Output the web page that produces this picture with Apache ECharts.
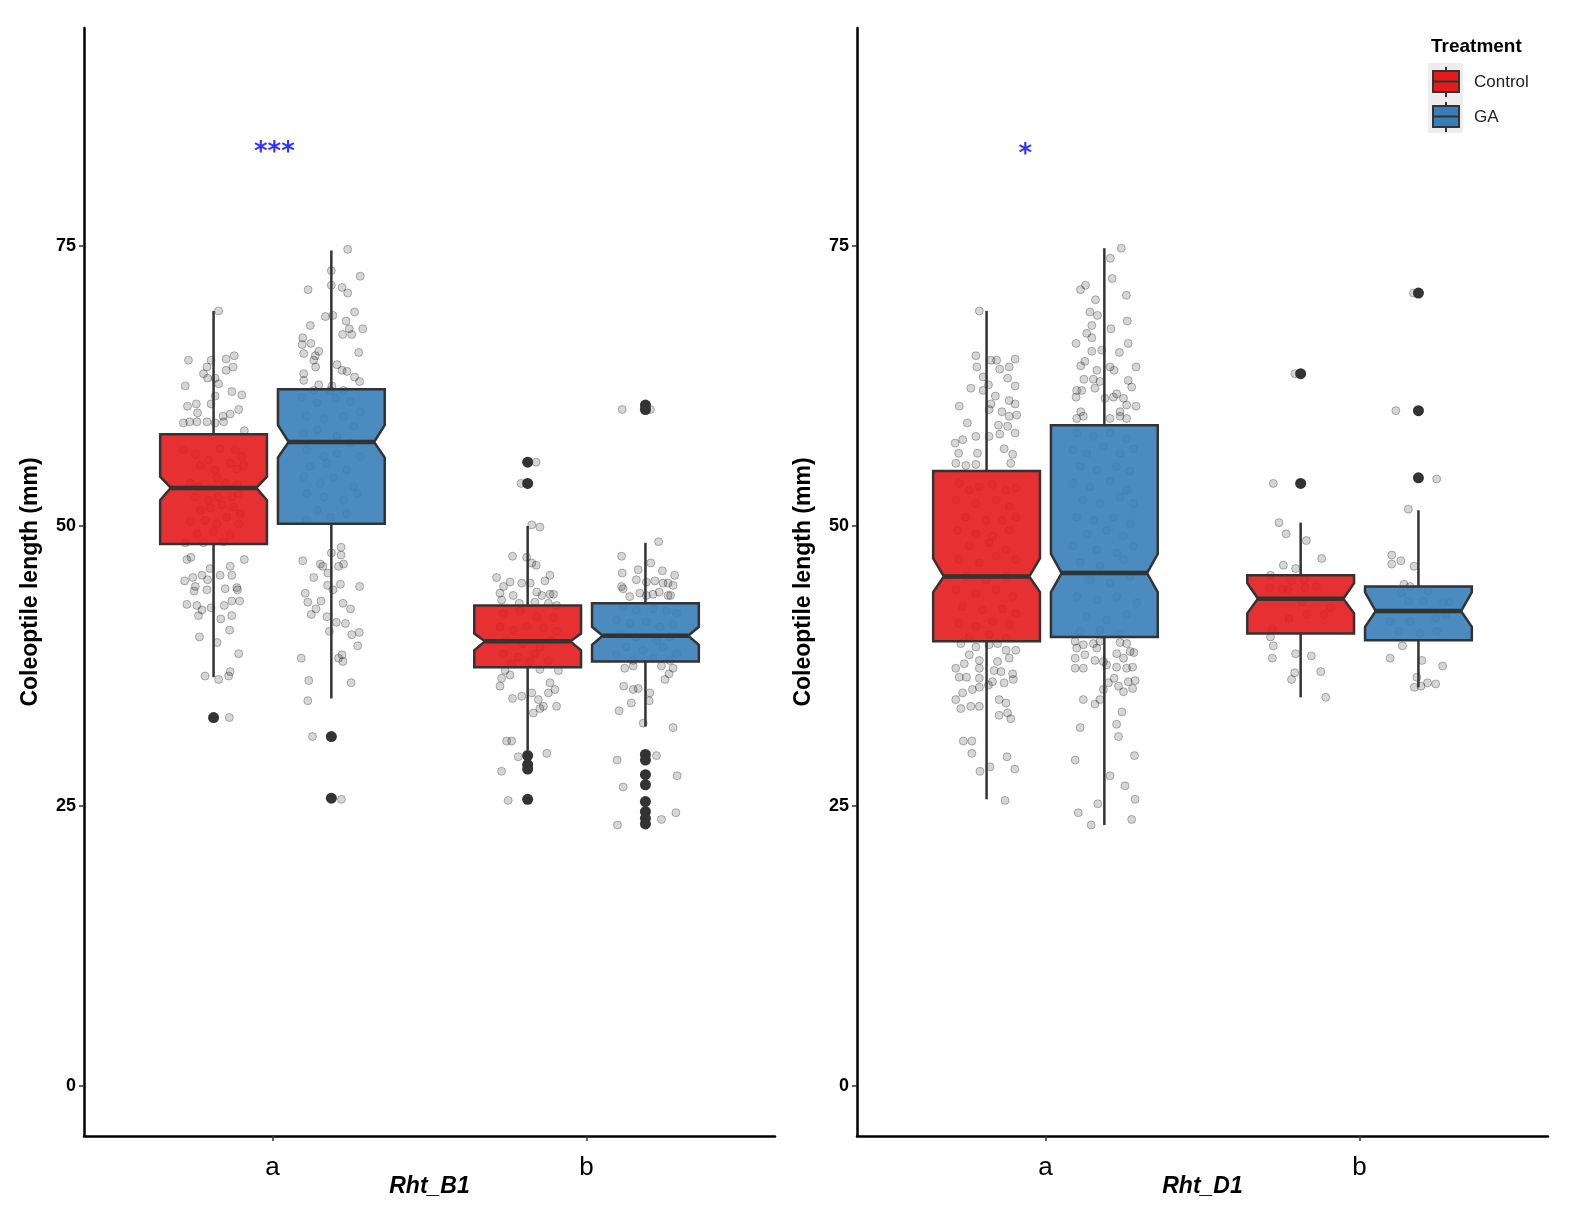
<!DOCTYPE html>
<html>
<head>
<meta charset="utf-8">
<script src="https://cdn.jsdelivr.net/npm/echarts@6/dist/echarts.min.js"></script>
<style>
  html, body { margin: 0; padding: 0; background: #fff; overflow: hidden; }
  #chart { width: 1570px; height: 1210px; }
</style>
</head>
<body>
<div id="chart"></div>
<script>
// ---- data ----
var categories = ['a', 'b'];
var panelNames = ['Rht_B1', 'Rht_D1'];
var treatments = ['Control', 'GA'];
var yTicks = [0, 25, 50, 75];

// box stats per category: [lowWhisker, q1, notchLow, median, notchHigh, q3, highWhisker]
var b1Control = [[36.5, 48.4, 52.3, 53.4, 54.4, 58.2, 69.2], [30.0, 37.4, 38.9, 39.7, 40.4, 42.9, 50.0]];
var b1GA      = [[34.6, 50.2, 56.1, 57.5, 59.0, 62.2, 74.6], [32.1, 37.9, 39.4, 40.2, 41.0, 43.1, 48.5]];
var d1Control = [[25.6, 39.7, 44.1, 45.5, 47.1, 54.9, 69.2], [34.7, 40.4, 42.2, 43.5, 44.9, 45.6, 50.3]];
var d1GA      = [[23.3, 40.1, 44.1, 45.8, 47.5, 59.0, 74.8], [35.6, 39.8, 41.0, 42.4, 44.1, 44.6, 51.4]];

// outliers per category
var b1ControlOut = [[32.9], [55.7, 53.8, 29.5, 28.7, 28.3, 25.6]];
var b1GAOut      = [[31.2, 25.7], [60.8, 60.4, 29.6, 29.1, 27.8, 26.9, 25.4, 24.5, 23.9, 23.4]];
var d1ControlOut = [[], [63.6, 53.8]];
var d1GAOut      = [[], [70.8, 60.3, 54.3]];

// jittered observations per category: [jitter offset, value]
var b1ControlPts = [
  [[0.016,69.2],[-0.08,64.8],[-0.008,64.8],[0.04,64.9],[0.066,65.2],[-0.021,64.2],[0.062,64.2],[0.04,63.9],[-0.032,63.6],[-0.019,63.2],[0.005,63.2],[0.016,62.7],[-0.09,62.5],[0.058,62.0],[0.09,61.7],[0.005,61.6],[-0.008,60.9],[-0.083,60.7],[-0.055,60.9],[-0.051,60.1],[0.08,60.4],[0.053,60.0],[0.03,59.8],[-0.096,59.2],[-0.076,59.3],[-0.053,59.3],[-0.021,59.3],[0.005,59.2],[0.032,59.3],[0.098,58.5],
   [-0.096,56.8],[-0.058,56.4],[0.021,56.9],[0.069,56.8],[0.09,56.2],[-0.042,55.4],[-0.016,55.9],[0.005,55.0],[0.053,55.6],[0.074,55.1],[0.096,55.4],[-0.074,53.8],[-0.048,53.5],[0.011,54.3],[0.037,53.8],[0.074,53.7],[-0.058,52.6],[-0.016,52.3],[0.016,52.6],[0.058,52.6],[0.08,52.9],[-0.042,51.4],[-0.011,51.6],[0.027,51.9],[0.064,51.7],[0.085,51.1],[-0.074,50.4],[-0.027,50.5],[0.011,50.2],[0.042,50.8],[0.08,50.2],[-0.053,49.3],[0,49.5],[0.053,49.2],[-0.09,48.5],[-0.032,48.5],[0.032,48.6],
   [-0.085,47.0],[-0.072,47.2],[-0.011,46.2],[0.021,45.6],[0.053,46.4],[0.058,45.6],[0.098,47.0],[-0.066,45.4],[-0.037,45.6],[-0.019,45.2],[-0.092,45.1],[-0.058,44.6],[-0.062,44.2],[-0.021,44.3],[0.037,44.4],[0.074,44.5],[0.076,44.3],[-0.085,43.0],[-0.053,42.9],[-0.037,42.5],[-0.008,42.7],[0.034,42.9],[0.058,43.3],[0.083,43.3],[-0.048,42.0],[0.023,41.7],[0.058,42.0],[0.051,40.7],[-0.045,40.1],[0.011,39.6],[0.08,38.6],[-0.027,36.6],[0.016,36.3],[0.048,36.6],[0.053,37.0],[0.05,32.9]],
  [[0.027,55.7],[-0.021,53.8],[0.013,50.1],[0.039,49.9],[-0.048,47.3],[-0.003,47.2],[0.013,46.7],[0.027,46.5],[-0.099,45.4],[-0.056,45.0],[-0.077,44.6],[-0.019,44.9],[0.008,44.9],[0.071,45.6],[0.055,45.1],[-0.088,44.0],[-0.046,43.8],[0.029,44.1],[0.045,43.8],[0.071,43.9],[0.082,43.9],[-0.083,43.4],[-0.027,43.1],[0.023,43.2],[0.066,43.1],[0.092,42.9],
   [-0.077,42.2],[-0.024,42.4],[0.029,41.9],[0.082,41.8],[-0.088,41.0],[-0.046,40.7],[-0.003,41.0],[0.05,40.9],[0.092,40.6],[-0.067,39.8],[-0.014,39.5],[0.039,39.2],[0.076,39.8],[-0.077,38.6],[-0.03,38.3],[0.023,38.6],[0.066,38.0],[-0.051,37.7],[0.007,37.9],
   [-0.072,37.1],[-0.056,36.7],[0.039,37.2],[0.098,37.1],[-0.083,36.4],[-0.088,35.7],[-0.048,34.6],[-0.019,34.8],[0.013,35.1],[0.034,34.5],[0.05,33.9],[0.071,36.0],[0.087,35.4],[0.066,35.1],[0.092,33.9],[0.018,33.3],[0.039,33.7],[-0.067,30.8],[-0.051,30.8],[0.061,29.7],[-0.03,29.4],[-0.083,28.1],[-0.062,25.5]]
];
var b1GAPts = [
  [[0.052,74.7],[0,72.8],[0.092,72.3],[-0.074,71.1],[0,71.5],[0.034,71.3],[0.052,70.8],[0.074,69.1],[-0.019,68.7],[0.005,68.8],[0.047,68.3],[-0.067,67.9],[0.057,67.6],[0.1,67.6],[0.036,67.1],[0.065,67.1],[-0.091,66.8],[-0.093,66.2],[-0.065,66.3],[-0.04,65.6],[-0.088,65.4],[-0.051,65.2],[-0.056,64.8],[0.087,65.5],[-0.05,64.2],[0.018,64.4],[0.034,63.9],[0.05,63.8],[-0.088,63.6],[-0.088,63.0],[0.074,63.3],[0.09,62.9],[-0.04,62.6],[0.002,62.5],[-0.056,62.1],[-0.003,62.1],[0.039,62.1],
   [-0.093,61.5],[-0.046,61.0],[0.013,61.4],[0.061,61.1],[0.092,60.2],[-0.077,59.8],[-0.024,59.5],[0.039,59.8],[0.071,58.9],[-0.088,58.3],[-0.046,58.6],[0.018,58.0],[0.061,57.4],[-0.077,56.8],[-0.024,56.2],[0.018,56.5],[0.092,56.2],[-0.067,55.3],[-0.014,55.6],[0.05,55.0],[-0.088,54.4],[-0.035,53.8],[0.007,54.3],[0.071,53.5],[-0.077,52.9],[-0.024,52.6],[0.039,52.3],[0.082,52.9],[-0.046,51.4],[-0.003,50.8],[0.05,51.1],[-0.077,50.5],
   [0.031,48.1],[0,47.6],[0.031,47.4],[-0.091,46.9],[-0.035,46.6],[-0.027,46.4],[0.023,46.4],[0.039,46.6],[-0.011,45.8],[-0.056,45.4],[-0.012,44.7],[0.029,44.8],[0.09,44.6],[0.005,44.3],[-0.083,44.0],[-0.075,43.2],[-0.033,43.3],[0.037,43.1],[0.061,42.6],[-0.049,42.6],[-0.064,42.1],[-0.014,41.9],[0.016,41.4],[0.045,41.3],[-0.006,40.6],[0.065,40.3],[0.089,40.5],[0.084,39.3],[-0.096,38.2],[0.023,38.2],[0.034,38.5],[0.037,37.9],[-0.072,36.2],[0.063,36.0],[-0.075,34.4],[-0.06,31.2],[0.032,25.6]],
  [[0.016,60.4],[-0.074,60.4],[0.042,48.6],[-0.076,47.3],[0.017,46.7],[-0.023,46.1],[0.054,46.0],[-0.074,45.8],[0.093,45.6],[-0.029,45.2],[0.003,45.0],[0.03,45.1],[0.056,44.9],[0.072,44.9],[0.088,44.7],[-0.076,44.6],[-0.071,44.4],[-0.05,43.7],[-0.018,44.0],[0.003,43.8],[0.024,43.9],[0.044,44.1],[0.072,43.8],[0.08,43.8],
   [-0.071,42.8],[-0.029,42.5],[0.024,42.6],[0.067,42.4],[0.099,42.2],[-0.092,41.6],[-0.05,41.3],[0.003,41.5],[0.046,41.0],[0.088,41.2],[-0.082,40.4],[-0.029,40.1],[0.035,39.8],[0.077,40.1],[-0.061,39.2],[-0.007,38.9],[0.056,39.2],[0.099,38.6],[-0.092,38.5],[-0.039,38.0],[0.024,38.2],[0.077,38.0],
   [-0.066,37.3],[-0.039,37.5],[0.051,37.5],[0.088,37.3],[0.075,36.8],[0.062,36.3],[-0.069,35.7],[-0.039,35.4],[-0.023,35.5],[0.014,35.1],[0.012,34.4],[-0.045,34.2],[-0.084,33.5],[-0.007,32.4],[0.088,32.0],[-0.09,29.1],[0.035,29.5],[-0.071,26.7],[0.101,27.7],[0.097,24.4],[0.051,23.8],[-0.089,23.3]]
];
var d1ControlPts = [
  [[-0.023,69.2],[-0.034,65.2],[-0.031,64.2],[0.014,64.8],[0.032,64.8],[0.042,64.0],[0.072,64.2],[0.091,64.9],[-0.011,63.3],[0.006,62.6],[-0.05,62.3],[0.067,63.2],[0.091,62.5],[-0.011,62.1],[0.028,61.6],[-0.087,60.7],[0.014,60.9],[0.072,61.2],[0.091,60.9],[0.008,60.4],[0.049,60.2],[0.072,59.8],[0.096,59.9],[-0.061,59.2],[-0.034,58.0],[0.038,59.0],[0.067,58.9],[0.091,58.3],[-0.1,57.4],[-0.076,57.7],[-0.089,56.5],[-0.029,56.5],[0.008,58.0],[0.042,58.2],[0.056,56.9],[0.083,56.4],[-0.098,55.6],[-0.066,55.4],[-0.034,55.5],[0.077,55.6],
   [-0.087,53.8],[-0.055,53.2],[-0.023,53.5],[0.019,53.7],[0.062,53.2],[0.093,53.4],[-0.098,52.3],[-0.034,52.0],[0.03,52.3],[0.072,51.7],[-0.066,50.8],[-0.002,50.5],[0.051,50.5],[0.093,50.8],[-0.092,49.6],[-0.034,49.3],[0.019,49.1],[0.072,49.6],[-0.055,48.2],[0.008,48.5],[0.062,47.9],[-0.087,47.0],[-0.023,46.7],[0.03,47.3],[0.093,47.0],[-0.066,45.5],[-0.002,45.2],[0.062,45.5],[-0.098,44.3],[-0.034,44.0],[0.03,44.3],[0.083,43.7],[-0.076,42.8],[-0.013,42.5],[0.051,42.6],[0.093,42.2],[-0.087,41.3],[-0.034,41.0],[0.019,41.5],[0.072,41.2],[-0.055,40.1],[0.008,40.3],[0.062,40.0],
   [-0.082,39.5],[-0.034,39.2],[0.008,39.4],[0.035,39.5],[0.062,38.9],[0.093,38.9],[-0.055,38.5],[-0.023,38.0],[0.035,37.9],[0.072,38.2],[-0.098,37.3],[-0.071,37.7],[-0.023,37.3],[0.024,37.1],[0.046,37.0],[0.083,36.8],[-0.087,36.5],[-0.064,36.5],[-0.023,36.4],[0.019,36.1],[0.056,36.0],[0.085,36.3],[-0.076,35.1],[-0.045,35.4],[-0.023,35.6],[0.006,35.8],[-0.098,34.5],[-0.082,33.7],[-0.05,33.9],[-0.023,33.9],[0.04,34.5],[0.062,34.2],[0.067,33.3],[0.077,32.8],[0.04,33.1],[-0.074,30.8],[-0.047,30.8],[-0.047,29.7],[0.065,29.4],[0.09,28.3],[-0.021,28.1],[0.011,28.5],[0.059,25.5]],
  [[-0.018,63.6],[-0.087,53.8],[-0.069,50.3],[-0.046,49.3],[0.018,48.7],[0.067,47.1],[-0.055,46.5],[-0.016,46.2],
   [-0.096,45.6],[-0.029,45.1],[0.011,45.2],[-0.099,44.5],[-0.058,44.4],[-0.039,44.3],[0.014,44.5],[0.05,44.6],[0.005,43.2],[0.096,42.7],[-0.037,41.7],[0.021,42.1],[0.074,42.1],[-0.09,40.8],
   [-0.096,40.1],[-0.087,39.3],[-0.09,38.2],[-0.016,38.6],[0.034,38.4],[0.064,37.0],[-0.019,36.9],[-0.029,36.3],[0.08,34.7]]
];
var d1GAPts = [
  [[0.054,74.8],[0.019,73.9],[-0.06,71.5],[-0.076,71.1],[-0.028,70.2],[0.025,72.1],[0.07,70.6],[-0.046,69.1],[-0.022,68.8],[0.073,68.3],[0.021,67.6],[-0.04,67.9],[-0.056,67.2],[-0.04,66.8],[-0.09,66.3],[0.076,66.3],[-0.04,65.6],[-0.008,65.7],[0.048,65.5],[-0.062,64.7],[-0.075,64.3],[-0.024,63.9],[0.018,64.2],[0.031,63.9],[0.101,64.2],[-0.065,63.1],[-0.035,63.1],[-0.014,62.9],[0.076,63.0],[0.087,62.4],[-0.088,62.1],[-0.072,62.1],[-0.03,62.3],[0.029,61.5],[0.061,61.4],[0.039,61.8],[-0.09,61.5],[0.002,61.4],[-0.075,60.2],[0.071,60.8],[0.101,60.7],[0.05,60.2],[-0.088,59.6],[-0.067,59.8],[0.018,59.6],[0.05,59.8],[0.071,59.6],
   [-0.088,58.3],[-0.035,58.0],[0.018,58.3],[0.071,57.8],[-0.1,56.8],[-0.056,56.5],[-0.003,57.1],[0.05,56.5],[0.092,56.9],[-0.077,55.3],[-0.024,55.0],[0.039,55.3],[0.082,54.9],[-0.099,53.8],[-0.046,53.5],[0.018,54.0],[0.071,53.2],[-0.067,52.3],[-0.014,52.0],[0.05,52.6],[0.092,52.0],[-0.088,50.8],[-0.035,50.5],[0.029,50.8],[0.082,50.2],[-0.056,49.3],[0.007,49.6],[0.061,49.1],[-0.099,48.2],[-0.024,47.9],[0.039,47.6],[0.092,48.2],[-0.077,46.7],[-0.014,46.4],[0.061,47.0],[-0.046,45.2],[0.018,44.9],[0.082,45.5],[-0.088,43.7],[-0.024,43.4],[0.039,43.7],[0.103,43.1],[-0.056,41.9],[0.007,41.6],[0.071,42.1],[-0.077,40.6],[-0.014,40.7],[0.05,40.4],
   [-0.093,39.7],[-0.067,39.4],[-0.035,39.5],[-0.014,39.7],[0.05,39.6],[0.071,39.5],[-0.088,39.1],[-0.062,38.5],[-0.024,39.1],[-0.03,38.0],[-0.003,37.9],[0.039,38.6],[0.061,38.2],[0.082,38.8],[0.094,38.7],[-0.093,38.2],[-0.093,37.3],[-0.067,37.3],[0.007,37.6],[0.039,37.4],[0.071,37.3],[0.09,37.4],[0.031,36.4],[0.076,36.1],[0.098,36.2],[0.013,36.0],[-0.003,35.4],[0.045,35.7],[0.061,35.2],[0.09,35.5],[-0.067,34.5],[-0.03,34.1],[-0.014,34.5],[0.056,33.4],[-0.077,32.0],[0.039,32.3],[0.045,31.2],[-0.093,29.1],[0.096,29.5],[0.018,27.7],[0.066,26.8],[-0.021,25.2],[-0.083,24.4],[0.098,25.6],[-0.042,23.3],[0.087,23.8]],
  [[-0.016,70.8],[-0.072,60.3],[0.058,54.2],[-0.032,51.5],[-0.085,47.4],[-0.085,46.6],[-0.056,46.9],[-0.014,46.4],[-0.046,44.8],[-0.027,44.6],[-0.053,44.0],[0.03,44.2],
   [-0.032,43.3],[0.016,43.3],[0.08,43.2],[0.098,43.2],[-0.09,41.5],[-0.027,41.5],[0.055,41.8],[0.087,42.1],[-0.062,40.6],[0.005,40.4],[0.058,40.6],
   [-0.051,39.3],[-0.09,38.2],[0.011,38.0],[0.077,37.5],[-0.005,36.5],[-0.013,35.6],[0.008,35.7],[0.029,36.0],[0.055,35.9]]
];

// significance marks over category "a": [offset, value, text]
var sigMarks = [[0.006, 83.3, '***'], [-0.064, 83.1, '*']];

// ---- styling / layout ----
var COLORS = ['#E41A1C', '#377EB8'];
var DODGE = [-0.1875, 0.1875];
var BOX_W = 0.34;
var NOTCH_W = 0.8;
var FONT = 'Liberation Sans, Arial, sans-serif';
var INK = '#333333';

var stats = [[b1Control, b1GA], [d1Control, d1GA]];
var outliers = [[b1ControlOut, b1GAOut], [d1ControlOut, d1GAOut]];
var points = [[b1ControlPts, b1GAPts], [d1ControlPts, d1GAPts]];

function renderBox(params, api) {
    var x = api.value(0);
    var low = api.value(1), q1 = api.value(2), nlo = api.value(3), med = api.value(4),
        nhi = api.value(5), q3 = api.value(6), high = api.value(7);
    var cx = api.coord([x, med])[0];
    var half = api.size([BOX_W, 0])[0] / 2;
    var inset = half * (1 - NOTCH_W);
    var y = function (v) { return api.coord([x, v])[1]; };
    var pts = [
        [cx - half, y(q3)], [cx + half, y(q3)], [cx + half, y(nhi)], [cx + half - inset, y(med)],
        [cx + half, y(nlo)], [cx + half, y(q1)], [cx - half, y(q1)], [cx - half, y(nlo)],
        [cx - half + inset, y(med)], [cx - half, y(nhi)]
    ];
    var lineStyle = { stroke: INK, lineWidth: 2.5 };
    return {
        type: 'group',
        children: [
            { type: 'line', shape: { x1: cx, y1: y(low), x2: cx, y2: y(q1) }, style: lineStyle },
            { type: 'line', shape: { x1: cx, y1: y(q3), x2: cx, y2: y(high) }, style: lineStyle },
            { type: 'polygon', shape: { points: pts }, style: { fill: api.visual('color'), fillOpacity: 0.9, stroke: INK, lineWidth: 2.5, lineJoin: 'miter' } },
            { type: 'line', shape: { x1: cx - half + inset, y1: y(med), x2: cx + half - inset, y2: y(med) }, style: { stroke: INK, lineWidth: 4.5 } }
        ]
    };
}

var grids = [], xAxes = [], yAxes = [], series = [];
panelNames.forEach(function (pname, p) {
    grids.push({ left: p === 0 ? 84 : 857, width: 691, top: 28, height: 1108 });
    xAxes.push({
        type: 'value', gridIndex: p, min: 0.4, max: 2.6,
        name: pname, nameLocation: 'middle', nameGap: 39, nameMoveOverlap: false,
        nameTextStyle: { fontFamily: FONT, fontSize: 23, fontWeight: 'bold', fontStyle: 'italic', color: '#000' },
        axisLine: { show: true, onZero: false, lineStyle: { color: '#000', width: 2.5 } },
        axisTick: { show: true, customValues: [1, 2], length: 5, lineStyle: { color: INK, width: 1.5 } },
        axisLabel: {
            customValues: [1, 2], margin: 19, fontFamily: FONT, fontSize: 26, color: '#000',
            formatter: function (v) { return categories[Math.round(v) - 1]; }
        },
        splitLine: { show: false }
    });
    yAxes.push({
        type: 'value', gridIndex: p, min: -4.46, max: 94.46,
        name: 'Coleoptile length (mm)', nameLocation: 'middle', nameGap: 42, nameMoveOverlap: false,
        nameTextStyle: { fontFamily: FONT, fontSize: 23, fontWeight: 'bold', color: '#000' },
        axisLine: { show: true, onZero: false, lineStyle: { color: '#000', width: 2.5 } },
        axisTick: { show: true, customValues: yTicks, length: 5, lineStyle: { color: INK, width: 1.5 } },
        axisLabel: { customValues: yTicks, margin: 8, fontFamily: FONT, fontSize: 18, fontWeight: 'bold', color: '#000' },
        splitLine: { show: false }
    });

    treatments.forEach(function (tname, t) {
        var st = stats[p][t];
        series.push({
            type: 'custom', name: tname, xAxisIndex: p, yAxisIndex: p, z: 3,
            itemStyle: { color: COLORS[t] },
            renderItem: renderBox,
            encode: { x: 0, y: [1, 2, 3, 4, 5, 6, 7] },
            data: st.map(function (s, i) { return [i + 1 + DODGE[t]].concat(s); })
        });
        var outData = [];
        outliers[p][t].forEach(function (vals, i) {
            vals.forEach(function (v) { outData.push([i + 1 + DODGE[t], v]); });
        });
        series.push({
            type: 'scatter', name: tname + ' outliers', xAxisIndex: p, yAxisIndex: p, z: 4, silent: true,
            symbolSize: 11, itemStyle: { color: INK, opacity: 1 },
            data: outData
        });
        var jit = [];
        points[p][t].forEach(function (list, i) {
            list.forEach(function (d) { jit.push([i + 1 + DODGE[t] + d[0], d[1]]); });
        });
        series.push({
            type: 'scatter', name: tname + ' points', xAxisIndex: p, yAxisIndex: p, z: 2, silent: true,
            symbolSize: 8,
            itemStyle: { color: 'rgba(0,0,0,0.2)', borderColor: 'rgba(0,0,0,0.35)', borderWidth: 1 },
            data: jit
        });
    });

    series.push({
        type: 'scatter', name: 'sig', xAxisIndex: p, yAxisIndex: p, z: 5, silent: true,
        symbolSize: 1, itemStyle: { color: 'rgba(0,0,0,0)' },
        label: {
            show: true, position: 'inside', formatter: function (d) { return d.data[2]; },
            fontFamily: 'DejaVu Sans, sans-serif', fontSize: 26, fontWeight: 'bold', color: '#0000FF'
        },
        data: [[1 + sigMarks[p][0], sigMarks[p][1], sigMarks[p][2]]]
    });
});

var KEY_ICON = 'path://M14,0V4M14,25V30M1,4H27V14.5H1ZM1,14.5H27V25H1Z';

var chart = echarts.init(document.getElementById('chart'));
chart.setOption({
    backgroundColor: '#fff',
    animation: false,
    title: {
        text: 'Treatment', left: 1431, top: 37, padding: 0,
        textStyle: { fontFamily: FONT, fontSize: 19, fontWeight: 'bold', color: '#000' }
    },
    graphic: [{
        type: 'rect', left: 1428, top: 63, z: 0,
        shape: { width: 35, height: 70 }, style: { fill: '#EDEDED' }
    }],
    legend: {
        orient: 'vertical', left: 1432, top: 66, padding: 0,
        itemWidth: 28, itemHeight: 30, itemGap: 3,
        itemStyle: { borderColor: INK, borderWidth: 2 },
        textStyle: { fontFamily: FONT, fontSize: 17, color: '#222', padding: [0, 0, 0, 9] },
        selectedMode: false,
        data: [{ name: 'Control', icon: KEY_ICON }, { name: 'GA', icon: KEY_ICON }]
    },
    grid: grids,
    xAxis: xAxes,
    yAxis: yAxes,
    series: series
});
</script>
</body>
</html>
